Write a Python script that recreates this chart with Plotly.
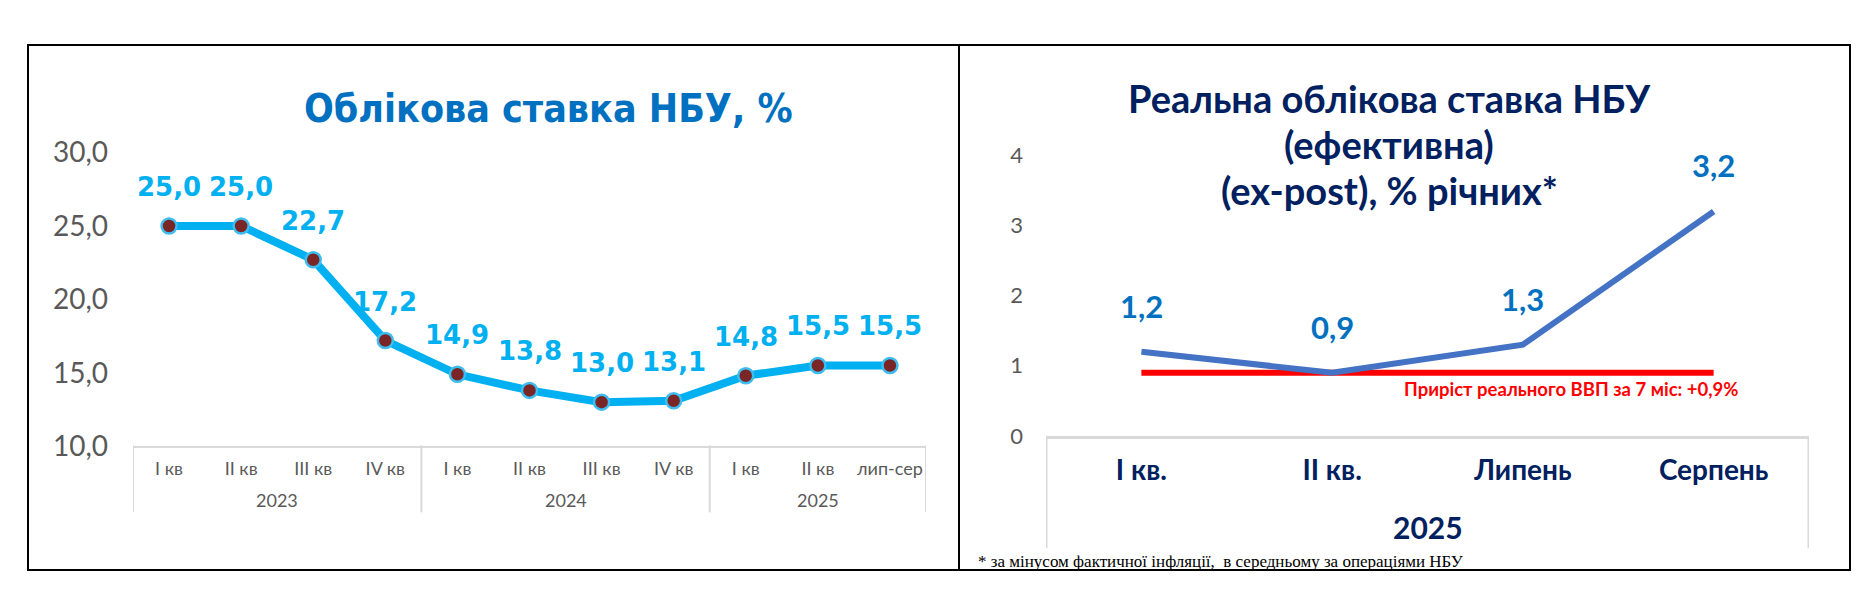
import plotly.graph_objects as go

W, H = 1870, 611

# --- left chart: key policy rate, %
quarters = ["I кв", "II кв", "III кв", "IV кв",
            "I кв", "II кв", "III кв", "IV кв",
            "I кв", "II кв", "лип-сер"]
years = ["2023", "2024", "2025"]
year_sizes = [4, 4, 3]
key_rate = [25.0, 25.0, 22.7, 17.2, 14.9, 13.8, 13.0, 13.1, 14.8, 15.5, 15.5]
left_ticks = [10, 15, 20, 25, 30]

# --- right chart: real key rate (ex-post), % annual
periods = ["І кв.", "ІІ кв.", "Липень", "Серпень"]
period_year = "2025"
real_rate = [1.2, 0.9, 1.3, 3.2]
gdp_growth = 0.9
gdp_note = "Приріст реального ВВП за 7 міс: +0,9%"
right_ticks = [0, 1, 2, 3, 4]

LIGHT_BLUE = "#00B0F0"
NAVY = "#002060"
GRID = "#D9D9D9"
TICK_GRAY = "#595959"


def px_x(p):
    return p / W


def px_y(p):
    return 1 - p / H


def fmt(v):
    return f"{v:.1f}".replace(".", ",")


def note(x, y, text, font, **kw):
    # paper-anchored text, centred on the given pixel position
    d = dict(x=px_x(x), y=px_y(y), xref="paper", yref="paper", text=text,
             showarrow=False, xanchor="center", yanchor="middle", font=font)
    d.update(kw)
    return d


fig = go.Figure()

# Left series
xl = list(range(len(quarters)))
fig.add_trace(go.Scatter(
    x=xl, y=key_rate, mode="lines+markers", xaxis="x", yaxis="y",
    line=dict(color=LIGHT_BLUE, width=8),
    marker=dict(size=15, color="#7A2526", line=dict(color="#3DBDF0", width=2.5)),
    showlegend=False, cliponaxis=False,
))

# Right series: GDP reference line then the real rate
xr = list(range(len(periods)))
fig.add_trace(go.Scatter(
    x=xr, y=[gdp_growth] * len(periods), mode="lines", xaxis="x2", yaxis="y2",
    line=dict(color="#FF0000", width=6), showlegend=False, cliponaxis=False,
))
fig.add_trace(go.Scatter(
    x=xr, y=real_rate, mode="lines", xaxis="x2", yaxis="y2",
    line=dict(color="#4472C4", width=6), showlegend=False, cliponaxis=False,
))

annotations = []

# data labels
for x, v in zip(xl, key_rate):
    annotations.append(dict(
        x=x, y=v, xref="x", yref="y", text=fmt(v), showarrow=False, yshift=39,
        xanchor="center", yanchor="middle",
        font=dict(family="DejaVu Sans", size=26, color=LIGHT_BLUE, weight="bold"),
    ))
for x, v in zip(xr, real_rate):
    annotations.append(dict(
        x=x, y=v, xref="x2", yref="y2", text=fmt(v), showarrow=False, yshift=46,
        xanchor="center", yanchor="middle",
        font=dict(family="Lato", size=31, color="#0070C0", weight="bold"),
    ))

# year labels under the left category axis
start = 0
for year, n in zip(years, year_sizes):
    annotations.append(dict(
        x=start + (n - 1) / 2, y=px_y(502), xref="x", yref="paper", text=year,
        showarrow=False, xanchor="center", yanchor="middle",
        font=dict(family="Lato", size=18, color=TICK_GRAY),
    ))
    start += n

title_r = dict(family="Lato", size=38, color=NAVY, weight="bold")
annotations += [
    dict(x=(len(periods) - 1) / 2, y=px_y(531), xref="x2", yref="paper", text=period_year,
         showarrow=False, xanchor="center", yanchor="middle",
         font=dict(family="Lato", size=30, color=NAVY, weight="bold")),
    note(1563, 384, gdp_note, dict(family="Lato", size=18.5, color="#FF0000", weight="bold")),
    # titles
    note(540, 87, "Облікова ставка НБУ, %",
         dict(family="DejaVu Sans Condensed, DejaVu Sans", size=39, color="#0070C0", weight="bold")),
    note(1381, 76, "Реальна облікова ставка НБУ", title_r),
    note(1381, 125, "(ефективна)", title_r),
    note(1381, 174, "(ex-post), % річних*", title_r),
    # footnote
    note(968, 567, "* за мінусом фактичної інфляції,  в середньому за операціями НБУ",
         dict(family="Liberation Serif", size=17, color="black"), xanchor="left"),
]

shapes = []
# group dividers on the left category axis
edges = [-0.5]
for n in year_sizes:
    edges.append(edges[-1] + n)
for e in edges:
    shapes.append(dict(type="line", xref="x", yref="paper", x0=e, x1=e,
                       y0=px_y(444), y1=px_y(515), line=dict(color=GRID, width=2)))
# right category box sides
for e in [-0.5, len(periods) - 0.5]:
    shapes.append(dict(type="line", xref="x2", yref="paper", x0=e, x1=e,
                       y0=px_y(434), y1=px_y(553), line=dict(color=GRID, width=3)))
# outer frame and divider
shapes.append(dict(type="rect", xref="paper", yref="paper", x0=px_x(20), x1=px_x(1842),
                   y0=px_y(20), y1=px_y(576), line=dict(color="black", width=2)))
shapes.append(dict(type="line", xref="paper", yref="paper", x0=px_x(951), x1=px_x(951),
                   y0=px_y(20), y1=px_y(576), line=dict(color="black", width=2)))

fig.update_layout(
    width=W, height=H,
    margin=dict(l=0, r=0, t=0, b=0),
    paper_bgcolor="white", plot_bgcolor="white",
    separators=", ",
    showlegend=False,
    annotations=annotations,
    shapes=shapes,
    xaxis=dict(
        domain=[px_x(125), px_x(918)], range=[-0.5, len(quarters) - 0.5],
        tickvals=xl, ticktext=quarters, showgrid=False, zeroline=False,
        showline=True, linecolor=GRID, linewidth=2, ticks="", ticklabelstandoff=5,
        tickfont=dict(family="Lato", size=18, color=TICK_GRAY), anchor="y",
    ),
    yaxis=dict(
        domain=[px_y(445), px_y(134)], range=[10, 30], tickvals=left_ticks,
        tickformat=".1f", showgrid=False, zeroline=False, showline=False,
        ticklabelstandoff=24, tickfont=dict(family="Lato", size=28, color=TICK_GRAY),
        anchor="x",
    ),
    xaxis2=dict(
        domain=[px_x(1038), px_x(1801)], range=[-0.5, len(periods) - 0.5],
        tickvals=xr, ticktext=periods, showgrid=False, zeroline=False,
        showline=True, linecolor=GRID, linewidth=3, ticks="", ticklabelstandoff=8,
        tickfont=dict(family="Lato", size=28, color=NAVY, weight="bold"), anchor="y2",
    ),
    yaxis2=dict(
        domain=[px_y(434), px_y(137)], range=[0, 4], tickvals=right_ticks,
        showgrid=False, zeroline=False, showline=False,
        ticklabelstandoff=22, tickfont=dict(family="Lato", size=22, color=TICK_GRAY),
        anchor="x2",
    ),
)

fig.write_html("out.html")
